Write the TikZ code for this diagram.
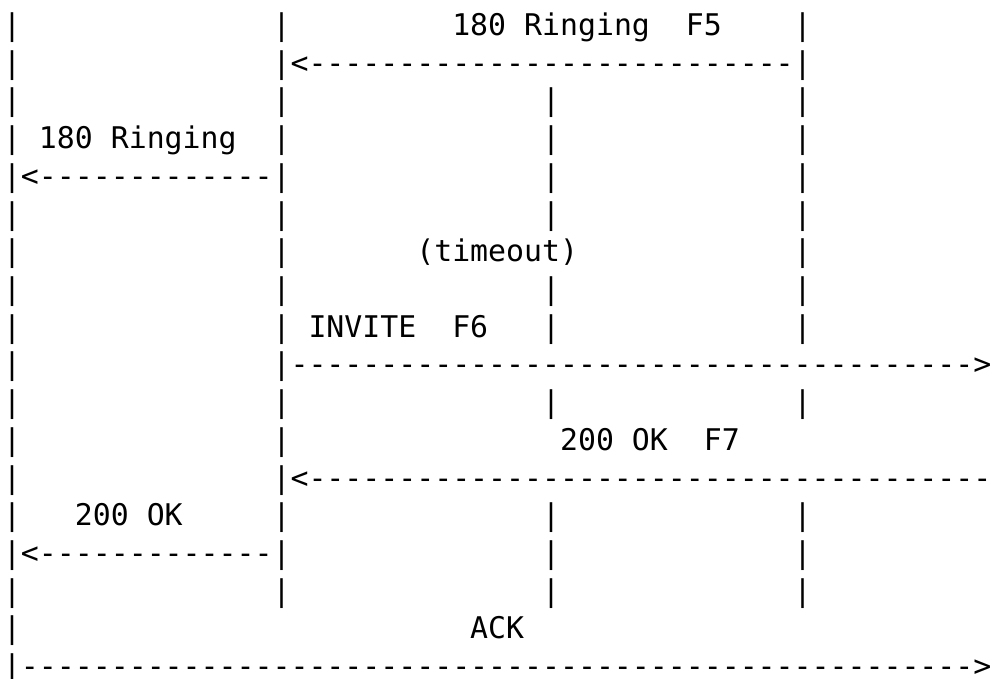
\documentclass[tikz,border=0pt]{standalone}
\usepackage{fontspec}
\newfontfamily\asciifont{DejaVu Sans Mono}[Ligatures=TeXOff]
\ExplSyntaxOn
\NewDocumentCommand\dsh{m}{\prg_replicate:nn{#1}{-}}
\ExplSyntaxOff
\newcommand\chw{17.97}
\newcommand\lnh{37.72}
% place text at column #1, line #2, node name #3, text #4
\newcommand\putat[4]{\node[asc] (#3) at ({3.015+#1*\chw},{-35.4-(#2-1)*\lnh}) {#4};}
\begin{document}
\begin{tikzpicture}[x=1pt,y=1pt,
  asc/.style={anchor=base west, inner sep=0pt, outer sep=0pt, text=black,
    font=\asciifont\fontsize{29.85pt}{37.72pt}\selectfont}]
\useasboundingbox (0,0) rectangle (992,-679);
% lifeline bars: column/line pairs
\foreach \c/\l in {0/1,15/1,44/1,
                   0/2,
                   0/3,15/3,30/3,44/3,
                   0/4,15/4,30/4,44/4,
                   30/5,44/5,
                   0/6,15/6,30/6,44/6,
                   0/7,15/7,44/7,
                   0/8,15/8,30/8,44/8,
                   0/9,15/9,30/9,44/9,
                   0/10,
                   0/11,15/11,30/11,44/11,
                   0/12,15/12,
                   0/13,
                   0/14,15/14,30/14,44/14,
                   30/15,44/15,
                   0/16,15/16,30/16,44/16,
                   0/17}
  {\putat{\c}{\l}{bar-\c-\l}{|}}
% labels
\putat{25}{1}{lblF5}{180 Ringing~~F5}
\putat{2}{4}{lblR}{180 Ringing}
\putat{23}{7}{lblTO}{(timeout)}
\putat{17}{9}{lblF6}{INVITE~~F6}
\putat{31}{12}{lblF7}{200 OK~~F7}
\putat{4}{14}{lblOK}{200 OK}
\putat{26}{17}{lblACK}{ACK}
% arrows (as printed)
\putat{15}{2}{arrF5}{|<\dsh{27}|}
\putat{0}{5}{arrR}{|<\dsh{13}|}
\putat{15}{10}{arrF6}{|\dsh{38}>}
\putat{15}{13}{arrF7}{|<\dsh{38}}
\putat{0}{15}{arrOK}{|<\dsh{13}|}
\putat{0}{18}{arrACK}{|\dsh{53}>}
\end{tikzpicture}
\end{document}
